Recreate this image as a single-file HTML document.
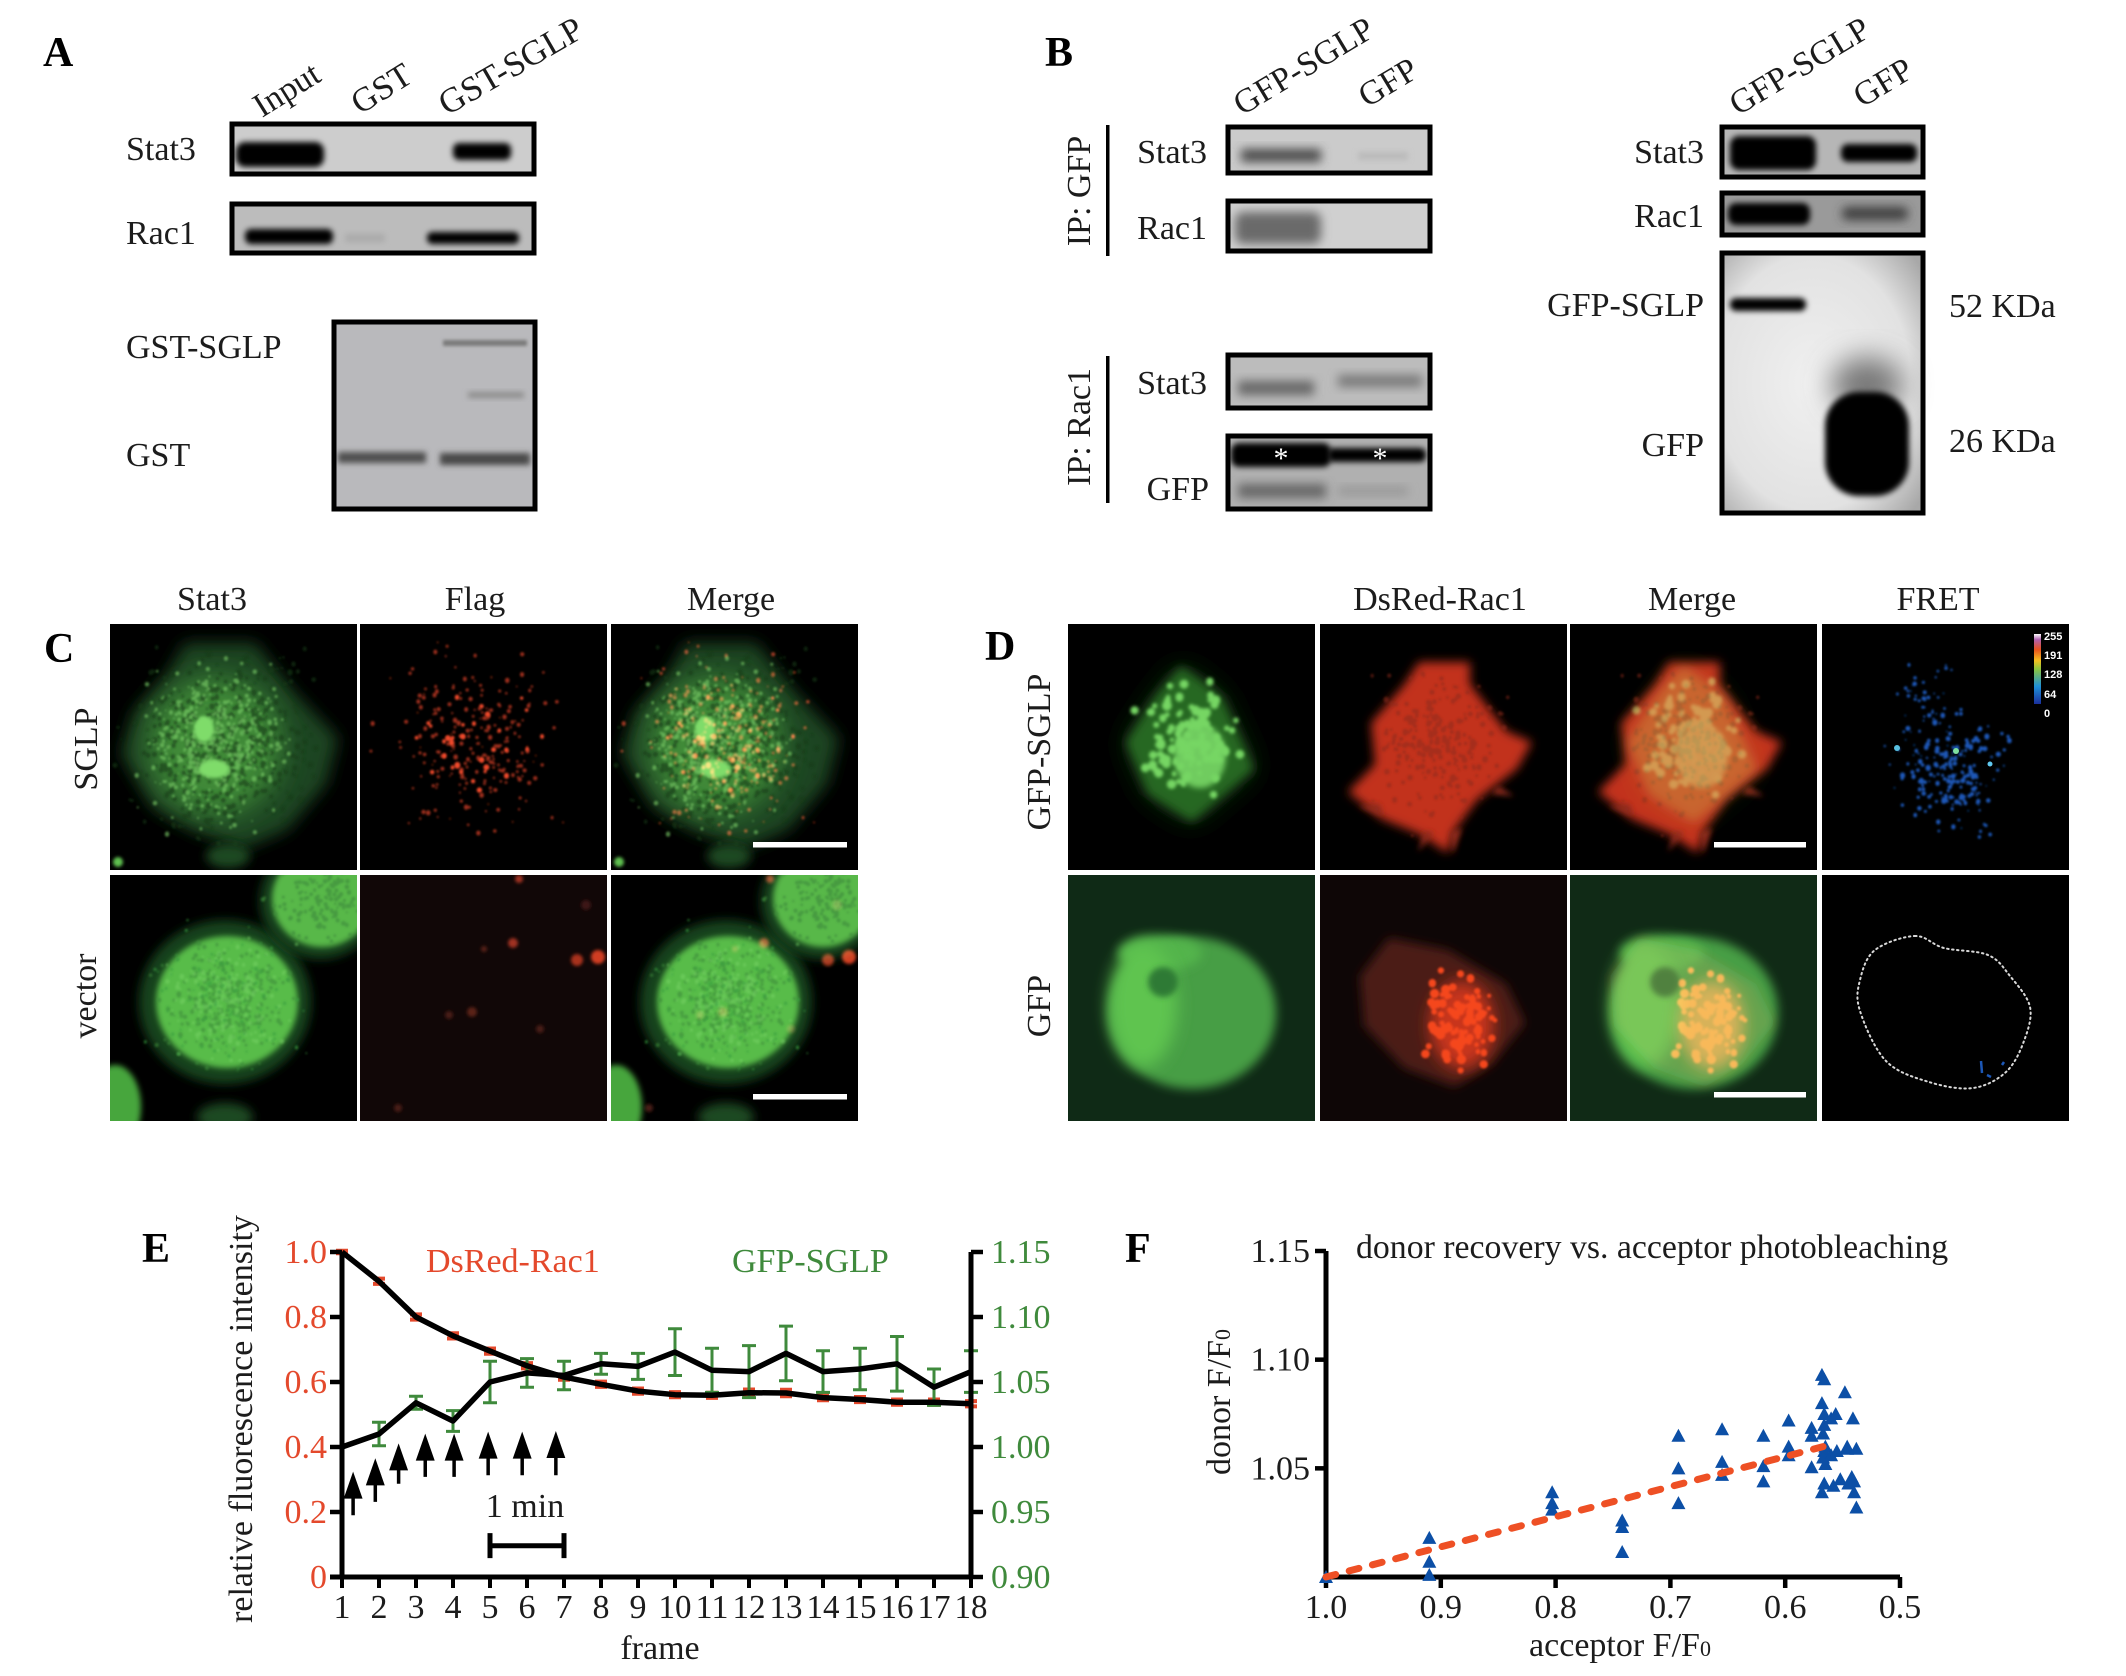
<!DOCTYPE html>
<html lang="en">
<head>
<meta charset="utf-8">
<title>SGLP interaction figure</title>
<style>
html,body{margin:0;padding:0;background:#fff;width:2126px;height:1676px;overflow:hidden}
svg{display:block}
text{font-family:"Liberation Serif",serif;font-size:34px;fill:#1c1c1c}
.letter{font-weight:bold;font-size:42px;fill:#000}
.box{fill:none;stroke:#000;stroke-width:5}
.r{fill:#e4492c}
.g{fill:#3f8a3c}
.screen{mix-blend-mode:screen}
</style>
</head>
<body>
<svg id="fig" xmlns="http://www.w3.org/2000/svg" width="2126" height="1676" viewBox="0 0 2126 1676">
<defs>
<filter id="b1" x="-30%" y="-60%" width="160%" height="220%"><feGaussianBlur stdDeviation="1.5"/></filter>
<filter id="b2" x="-30%" y="-60%" width="160%" height="220%"><feGaussianBlur stdDeviation="3"/></filter>
<filter id="b5" x="-40%" y="-60%" width="180%" height="220%"><feGaussianBlur stdDeviation="5"/></filter>
<filter id="b8" x="-40%" y="-40%" width="180%" height="180%"><feGaussianBlur stdDeviation="8"/></filter>
<filter id="b14" x="-50%" y="-50%" width="200%" height="200%"><feGaussianBlur stdDeviation="14"/></filter>
<filter id="s" x="-5%" y="-5%" width="110%" height="110%"><feGaussianBlur stdDeviation="1.1"/></filter>
<clipPath id="pc"><rect x="0" y="0" width="247" height="246"/></clipPath>
<radialGradient id="vig" cx="45%" cy="50%" r="70%"><stop offset="0" stop-color="#f0f0f0"/><stop offset="0.7" stop-color="#e2e2e2"/><stop offset="1" stop-color="#a8a8a8"/></radialGradient>

<g id="c1g">
  <polygon points="75,19 145,19 184,68 228,114 216,160 177,206 133,225 82,206 43,183 11,130 24,88 56,53" fill="#1a4420" filter="url(#b8)"/>
  <ellipse cx="105" cy="122" rx="66" ry="68" fill="#3f8a38" filter="url(#b14)"/>
  <path id="c1gd" fill="#143a18" opacity="0.6" filter="url(#s)"/>
  <path id="c1gl" fill="#7ed06a" opacity="0.6" filter="url(#s)"/>
  <ellipse cx="94" cy="105" rx="10" ry="13" fill="#7fdc6a" filter="url(#b1)"/>
  <ellipse cx="104" cy="145" rx="15" ry="9" fill="#7fdc6a" filter="url(#b1)"/>
  <circle cx="8" cy="238" r="5" fill="#5fc050" filter="url(#b1)"/>
  <ellipse cx="118" cy="232" rx="22" ry="12" fill="#1c4a20" filter="url(#b5)"/>
</g>
<g id="c1r">
  <path id="c1rd" fill="#9c2d1b" filter="url(#s)"/>
  <path id="c1rb" fill="#f0482a" filter="url(#s)"/>
</g>
<g id="c2g">
  <ellipse cx="115" cy="127" rx="86" ry="82" fill="#17421c" filter="url(#b5)"/>
  <ellipse cx="117" cy="127" rx="71" ry="66" fill="#58bc49" filter="url(#b2)"/>
  <ellipse cx="210" cy="26" rx="60" ry="58" fill="#17421c" filter="url(#b5)"/>
  <ellipse cx="212" cy="24" rx="50" ry="48" fill="#58b84a" filter="url(#b2)"/>
  <ellipse cx="5" cy="232" rx="26" ry="42" fill="#47a63e" filter="url(#b2)"/>
  <ellipse cx="115" cy="242" rx="28" ry="14" fill="#1b4a20" filter="url(#b5)"/>
  <path id="c2gd" fill="#3c8c3a" opacity="0.6" filter="url(#s)"/>
  <path id="c2gl" fill="#78d466" opacity="0.5" filter="url(#s)"/>
  <path id="c2gh" fill="#3f8f3c" opacity="0.7" filter="url(#s)"/>
  <path id="c2gr" fill="#3aa040" opacity="0.7" filter="url(#s)"/>
</g>
<g id="c2r">
  <g filter="url(#b1)">
    <circle cx="159" cy="4" r="4" fill="#a03020"/><circle cx="153" cy="68" r="5" fill="#a03020"/>
    <circle cx="217" cy="85" r="6" fill="#a8301e"/><circle cx="238" cy="82" r="7" fill="#d03c20"/>
    <circle cx="124" cy="74" r="3" fill="#5a2018"/><circle cx="112" cy="137" r="5" fill="#5a2018"/>
    <circle cx="89" cy="140" r="4" fill="#4a1c16"/><circle cx="180" cy="154" r="4" fill="#4a1c16"/>
    <circle cx="38" cy="233" r="4" fill="#4a1c16"/><circle cx="226" cy="30" r="5" fill="#3e1814"/>
  </g>
</g>

<g id="d1g">
  <polygon points="113,42 153,72 186,145 124,198 80,170 58,118 88,72" fill="#123a17" filter="url(#b14)"/>
  <polygon points="113,42 153,72 186,145 124,198 80,170 58,118 88,72" fill="#266824" filter="url(#b5)"/>
  <ellipse cx="132" cy="132" rx="26" ry="32" fill="#70cc5f" filter="url(#b2)"/>
  <path id="d1gb" fill="#76d663" filter="url(#b1)"/>
</g>
<g id="d1r">
  <polygon points="99,38 150,38 150,60 186,107 212,118 197,145 157,176 135,206 128,229 99,210 62,195 28,168 55,140 51,99 84,61" fill="#c2321e" filter="url(#b5)"/>
  <path d="M62 192L38 182L60 180ZM104 208L98 228L114 208ZM130 208L133 230L142 204ZM178 162L194 172L172 170Z" fill="#8f2a1b" filter="url(#b2)"/>
  <path id="d1rs" fill="#8e2a1c" opacity="0.55" filter="url(#s)"/>
</g>
<g id="d2g">
  <ellipse cx="124" cy="138" rx="84" ry="76" fill="#479e45" filter="url(#b5)"/>
  <ellipse cx="92" cy="78" rx="42" ry="18" fill="#52b44b" filter="url(#b5)"/>
  <ellipse cx="75" cy="130" rx="34" ry="62" fill="#5fc450" filter="url(#b8)"/>
  <ellipse cx="95" cy="107" rx="15" ry="15" fill="#2e7a35" filter="url(#b2)"/>
</g>
<g id="d2r">
  <polygon points="69,63 128,75 186,109 205,148 172,189 135,212 84,193 44,151 40,101" fill="#4b1a16" filter="url(#b5)"/>
  <ellipse cx="142" cy="150" rx="32" ry="44" fill="#c8341a" filter="url(#b8)"/>
  <path id="d2rs" fill="#f5461f" filter="url(#s)"/>
</g>
<g id="d2rm">
  <polygon points="69,63 128,75 186,109 205,148 172,189 135,212 84,193 44,151 40,101" fill="#2a100e" filter="url(#b5)"/>
  <ellipse cx="142" cy="150" rx="32" ry="44" fill="#c8341a" filter="url(#b8)"/>
  <use href="#d2rs"/>
</g>
</defs>

<rect x="0" y="0" width="2126" height="1676" fill="#fff"/>

<!-- Panel A -->
<text class="letter" x="43" y="66">A</text>
<text x="262" y="118" transform="rotate(-32 262 118)">Input</text>
<text x="360" y="115" transform="rotate(-32 360 115)">GST</text>
<text x="447" y="116" transform="rotate(-30 447 116)" style="font-size:35px">GST-SGLP</text>
<text x="126" y="160">Stat3</text>
<text x="126" y="244">Rac1</text>
<text x="126" y="358">GST-SGLP</text>
<text x="126" y="466">GST</text>
<g>
  <rect x="232" y="124" width="302" height="50" fill="#cdcdcd"/>
  <rect x="236" y="142" width="88" height="25" rx="9" fill="#000" filter="url(#b2)"/>
  <rect x="453" y="143" width="58" height="17" rx="6" fill="#000" filter="url(#b2)"/>
  <rect class="box" x="232" y="124" width="302" height="50"/>
</g>
<g>
  <rect x="232" y="204" width="302" height="49" fill="#bcbcbc"/>
  <rect x="245" y="229" width="88" height="15" rx="6" fill="#000" filter="url(#b2)"/>
  <rect x="427" y="232" width="92" height="12" rx="5" fill="#000" filter="url(#b2)"/>
  <rect x="345" y="234" width="40" height="8" fill="#aaa" filter="url(#b2)"/>
  <rect class="box" x="232" y="204" width="302" height="49"/>
</g>
<g>
  <rect x="334" y="322" width="201" height="187" fill="#b9b9bc"/>
  <rect x="443" y="340" width="84" height="6" fill="#7a7a7a" filter="url(#b1)"/>
  <rect x="468" y="392" width="56" height="6" fill="#8c8c8c" filter="url(#b2)"/>
  <rect x="338" y="452" width="88" height="11" fill="#505050" filter="url(#b2)"/>
  <rect x="440" y="453" width="90" height="12" fill="#484848" filter="url(#b2)"/>
  <rect class="box" x="334" y="322" width="201" height="187"/>
</g>

<!-- Panel B -->
<text class="letter" x="1045" y="66">B</text>
<text x="1242" y="116" transform="rotate(-31 1242 116)">GFP-SGLP</text>
<text x="1367" y="108" transform="rotate(-31 1367 108)">GFP</text>
<text x="1738" y="116" transform="rotate(-31 1738 116)">GFP-SGLP</text>
<text x="1862" y="108" transform="rotate(-31 1862 108)">GFP</text>
<text x="1090" y="191" text-anchor="middle" transform="rotate(-90 1090 191)">IP: GFP</text>
<text x="1090" y="427" text-anchor="middle" transform="rotate(-90 1090 427)">IP: Rac1</text>
<rect x="1106" y="125" width="3.5" height="131" fill="#000"/>
<rect x="1106" y="356" width="3.5" height="147" fill="#000"/>
<text x="1207" y="163" text-anchor="end">Stat3</text>
<text x="1207" y="239" text-anchor="end">Rac1</text>
<text x="1207" y="394" text-anchor="end">Stat3</text>
<text x="1209" y="500" text-anchor="end">GFP</text>
<text x="1704" y="163" text-anchor="end">Stat3</text>
<text x="1704" y="227" text-anchor="end">Rac1</text>
<text x="1704" y="316" text-anchor="end">GFP-SGLP</text>
<text x="1704" y="456" text-anchor="end">GFP</text>
<text x="1949" y="317">52 KDa</text>
<text x="1949" y="452">26 KDa</text>
<g transform="translate(-7,0)">
  <rect x="1235" y="127" width="202" height="46" fill="#cbcbcb"/>
  <rect x="1248" y="149" width="80" height="13" fill="#4a4a4a" filter="url(#b5)"/>
  <rect x="1365" y="152" width="50" height="8" fill="#bababa" filter="url(#b2)"/>
  <rect class="box" x="1235" y="127" width="202" height="46"/>
</g>
<g transform="translate(-7,0)">
  <rect x="1235" y="201" width="202" height="50" fill="#d0d0d0"/>
  <rect x="1242" y="212" width="86" height="32" rx="8" fill="#6b6b6b" filter="url(#b5)"/>
  <rect class="box" x="1235" y="201" width="202" height="50"/>
</g>
<g transform="translate(-7,0)">
  <rect x="1235" y="355" width="202" height="53" fill="#bcbcbc"/>
  <rect x="1245" y="381" width="76" height="14" fill="#666" filter="url(#b5)"/>
  <rect x="1345" y="375" width="84" height="12" fill="#787878" filter="url(#b5)"/>
  <rect class="box" x="1235" y="355" width="202" height="53"/>
</g>
<g transform="translate(-7,0)">
  <rect x="1235" y="436" width="202" height="73" fill="#b0b0b0"/>
  <rect x="1238" y="443" width="100" height="24" rx="8" fill="#000" filter="url(#b2)"/>
  <rect x="1335" y="448" width="98" height="14" rx="6" fill="#000" filter="url(#b2)"/>
  <rect x="1245" y="484" width="88" height="14" fill="#666" filter="url(#b5)"/>
  <rect x="1345" y="487" width="70" height="8" fill="#959595" filter="url(#b5)"/>
  <text x="1288" y="468" style="fill:#fff;font-size:30px" text-anchor="middle">*</text>
  <text x="1387" y="468" style="fill:#fff;font-size:30px" text-anchor="middle">*</text>
  <rect class="box" x="1235" y="436" width="202" height="73"/>
</g>
<g transform="translate(-11,0)">
  <rect x="1733" y="127" width="201" height="50" fill="#b6b6b6"/>
  <rect x="1741" y="136" width="86" height="34" rx="9" fill="#000" filter="url(#b2)"/>
  <rect x="1852" y="144" width="76" height="18" rx="7" fill="#000" filter="url(#b2)"/>
  <rect class="box" x="1733" y="127" width="201" height="50"/>
</g>
<g transform="translate(-11,0)">
  <rect x="1733" y="193" width="201" height="42" fill="#9a9a9a"/>
  <rect x="1739" y="203" width="82" height="22" rx="8" fill="#000" filter="url(#b2)"/>
  <rect x="1853" y="207" width="66" height="13" rx="5" fill="#3c3c3c" filter="url(#b5)"/>
  <rect class="box" x="1733" y="193" width="201" height="42"/>
</g>
<g transform="translate(-11,0)">
  <rect x="1733" y="253" width="201" height="260" fill="url(#vig)"/>
  <rect x="1741" y="298" width="76" height="13" rx="6" fill="#000" filter="url(#b2)"/>
  <ellipse cx="1878" cy="385" rx="36" ry="28" fill="#777" filter="url(#b14)"/>
  <rect x="1836" y="392" width="84" height="104" rx="34" fill="#000" filter="url(#b2)"/>
  <rect class="box" x="1733" y="253" width="201" height="260"/>
</g>

<!-- Panel C -->
<text class="letter" x="44" y="662">C</text>
<text x="212" y="610" text-anchor="middle">Stat3</text>
<text x="475" y="610" text-anchor="middle">Flag</text>
<text x="731" y="610" text-anchor="middle">Merge</text>
<text x="97" y="749" text-anchor="middle" transform="rotate(-90 97 749)">SGLP</text>
<text x="96" y="996" text-anchor="middle" transform="rotate(-90 96 996)">vector</text>

<g transform="translate(110,624)" clip-path="url(#pc)"><rect width="247" height="246" fill="#000"/><use href="#c1g"/></g>
<g transform="translate(360,624)" clip-path="url(#pc)"><rect width="247" height="246" fill="#000"/><use href="#c1r"/></g>
<g transform="translate(611,624)" clip-path="url(#pc)"><rect width="247" height="246" fill="#000"/><use href="#c1g"/><use href="#c1r" class="screen"/></g>
<g transform="translate(110,875)" clip-path="url(#pc)"><rect width="247" height="246" fill="#000"/><use href="#c2g"/></g>
<g transform="translate(360,875)" clip-path="url(#pc)"><rect width="247" height="246" fill="#110707"/><use href="#c2r"/></g>
<g transform="translate(611,875)" clip-path="url(#pc)"><rect width="247" height="246" fill="#000"/><use href="#c2g"/><use href="#c2r" class="screen"/></g>
<rect x="753" y="842" width="94" height="5.5" fill="#fff"/>
<rect x="753" y="1094" width="94" height="5.5" fill="#fff"/>

<!-- Panel D -->
<text class="letter" x="985" y="660">D</text>
<text x="1440" y="610" text-anchor="middle">DsRed-Rac1</text>
<text x="1692" y="610" text-anchor="middle">Merge</text>
<text x="1938" y="610" text-anchor="middle">FRET</text>
<text x="1050" y="752" text-anchor="middle" transform="rotate(-90 1050 752)">GFP-SGLP</text>
<text x="1050" y="1006" text-anchor="middle" transform="rotate(-90 1050 1006)">GFP</text>

<g transform="translate(1068,624)" clip-path="url(#pc)"><rect width="247" height="246" fill="#000"/><use href="#d1g"/></g>
<g transform="translate(1320,624)" clip-path="url(#pc)"><rect width="247" height="246" fill="#000"/><use href="#d1r"/></g>
<g transform="translate(1570,624)" clip-path="url(#pc)"><rect width="247" height="246" fill="#000"/><use href="#d1r"/><use href="#d1g" class="screen" opacity="0.6"/></g>
<g transform="translate(1822,624)" clip-path="url(#pc)">
  <rect width="247" height="246" fill="#000"/>
  <path id="f1b" fill="#1c57b6" filter="url(#s)"/>
  <path id="f1c" fill="#1c57b6" filter="url(#s)"/>
  <circle cx="134" cy="127" r="3" fill="#7fe0a0"/><circle cx="75" cy="124" r="3" fill="#58c0e0"/><circle cx="168" cy="140" r="2.5" fill="#60c8f0"/>
</g>
<g transform="translate(1068,875)" clip-path="url(#pc)"><rect width="247" height="246" fill="#0f2a16"/><use href="#d2g"/></g>
<g transform="translate(1320,875)" clip-path="url(#pc)"><rect width="247" height="246" fill="#0e0606"/><use href="#d2r"/></g>
<g transform="translate(1570,875)" clip-path="url(#pc)"><rect width="247" height="246" fill="#102a16"/><use href="#d2g"/><use href="#d2rm" class="screen"/></g>
<g transform="translate(1822,875)" clip-path="url(#pc)">
  <rect width="247" height="246" fill="#000"/>
  <path id="fretOutline" fill="none" stroke="#d8d8d8" stroke-width="2" stroke-dasharray="1.5 3.5" stroke-linecap="round"/>
  <path d="M159 186 l1 12 M165 200 l4 2 M180 190 l2 -3" stroke="#1c57b6" stroke-width="2.5" fill="none"/>
</g>
<rect x="1714" y="842" width="92" height="5.5" fill="#fff"/>
<rect x="1714" y="1092" width="92" height="5.5" fill="#fff"/>
<g>
  <linearGradient id="cb" x1="0" y1="1" x2="0" y2="0"><stop offset="0" stop-color="#1a2f9c"/><stop offset="0.25" stop-color="#1e90d8"/><stop offset="0.5" stop-color="#8cc63f"/><stop offset="0.62" stop-color="#f4c020"/><stop offset="0.78" stop-color="#e8501c"/><stop offset="0.92" stop-color="#b060b0"/><stop offset="1" stop-color="#fff"/></linearGradient>
  <rect x="2034" y="634" width="7" height="70" fill="url(#cb)"/>
  <text x="2044" y="640" style="font-family:'Liberation Sans',sans-serif;font-size:11px;font-weight:bold;fill:#fff">255</text>
  <text x="2044" y="659" style="font-family:'Liberation Sans',sans-serif;font-size:11px;font-weight:bold;fill:#fff">191</text>
  <text x="2044" y="678" style="font-family:'Liberation Sans',sans-serif;font-size:11px;font-weight:bold;fill:#fff">128</text>
  <text x="2044" y="698" style="font-family:'Liberation Sans',sans-serif;font-size:11px;font-weight:bold;fill:#fff">64</text>
  <text x="2044" y="717" style="font-family:'Liberation Sans',sans-serif;font-size:11px;font-weight:bold;fill:#fff">0</text>
</g>

<!-- Panel E -->
<text class="letter" x="142" y="1262">E</text>
<text x="252" y="1419" text-anchor="middle" transform="rotate(-90 252 1419)">relative fluorescence intensity</text>
<text x="660" y="1659" text-anchor="middle">frame</text>
<text x="426" y="1272" class="r">DsRed-Rac1</text>
<text x="732" y="1272" class="g">GFP-SGLP</text>
<text x="525" y="1517" text-anchor="middle">1 min</text>
<g id="chartE"></g>

<!-- Panel F -->
<text class="letter" x="1125" y="1262">F</text>
<text x="1356" y="1258" style="font-size:33.8px">donor recovery vs. acceptor photobleaching</text>
<text x="1230" y="1402" text-anchor="middle" transform="rotate(-90 1230 1402)">donor F/F<tspan font-size="22">0</tspan></text>
<text x="1620" y="1656" text-anchor="middle">acceptor F/F<tspan font-size="22">0</tspan></text>
<g id="chartF"></g>
</svg>

<script>
/* ---------- Chart E data ---------- */
const frames = [1,2,3,4,5,6,7,8,9,10,11,12,13,14,15,16,17,18];
const dsredValues = [1.0,0.91,0.80,0.742,0.695,0.65,0.615,0.593,0.572,0.561,0.559,0.567,0.566,0.552,0.546,0.538,0.538,0.533];
const dsredErrors = [0.004,0.008,0.008,0.008,0.008,0.008,0.008,0.008,0.008,0.008,0.008,0.01,0.01,0.008,0.008,0.008,0.008,0.008];
const gfpValues = [1.0,1.01,1.034,1.02,1.05,1.057,1.055,1.064,1.062,1.073,1.059,1.058,1.072,1.058,1.06,1.064,1.046,1.058];
const gfpErrors = [0,0.009,0.005,0.008,0.016,0.011,0.011,0.008,0.01,0.018,0.017,0.02,0.021,0.016,0.016,0.021,0.014,0.016];
const leftTicks = [0,0.2,0.4,0.6,0.8,1.0];
const leftTickLabels = ["0","0.2","0.4","0.6","0.8","1.0"];
const rightTicks = [0.90,0.95,1.00,1.05,1.10,1.15];
const rightTickLabels = ["0.90","0.95","1.00","1.05","1.10","1.15"];
const arrowFrames = [1.30,1.90,2.53,3.25,4.03,4.95,5.87,6.78];
const arrowTips = [0.308,0.349,0.395,0.425,0.425,0.431,0.431,0.433];
const arrowTails = [0.19,0.231,0.287,0.308,0.308,0.313,0.313,0.313];

/* ---------- Chart F data ---------- */
const acceptorValues = [1.0,0.91,0.91,0.91,0.803,0.803,0.803,0.742,0.742,0.742,0.693,0.693,0.693,0.655,0.655,0.655,0.619,0.619,0.619,0.597,0.597,0.597,0.577,0.577,0.577,0.568,0.566,0.568,0.566,0.566,0.567,0.566,0.567,0.565,0.568,0.566,0.565,0.56,0.556,0.548,0.546,0.546,0.541,0.538,0.56,0.555,0.558,0.552,0.545,0.542,0.54,0.54,0.538];
const donorValues = [1.0,1.001,1.007,1.018,1.039,1.034,1.031,1.026,1.023,1.0115,1.065,1.05,1.034,1.068,1.053,1.047,1.065,1.051,1.044,1.072,1.06,1.056,1.0686,1.065,1.0505,1.093,1.091,1.08,1.075,1.07,1.066,1.058,1.055,1.052,1.039,1.043,1.06,1.073,1.075,1.085,1.06,1.059,1.073,1.059,1.056,1.058,1.042,1.045,1.043,1.046,1.044,1.039,1.032];
const fitLineX = [1.0,0.567];
const fitLineY = [1.0,1.06];
const fXTicks = [1.0,0.9,0.8,0.7,0.6,0.5];
const fXTickLabels = ["1.0","0.9","0.8","0.7","0.6","0.5"];
const fYTicks = [1.05,1.10,1.15];
const fYTickLabels = ["1.05","1.10","1.15"];

const NS = "http://www.w3.org/2000/svg";
function mk(parent, tag, attrs, txt){
  const e = document.createElementNS(NS, tag);
  for (const k in attrs) e.setAttribute(k, attrs[k]);
  if (txt !== undefined) e.textContent = txt;
  parent.appendChild(e);
  return e;
}

/* Axis functions, chart E */
const eX = f => 342 + (f - 1) * (971 - 342) / 17;
const eL = v => 1577 - v * 325;
const eR = v => 1577 - (v - 0.9) * 1300;
const E = document.getElementById("chartE");
const lineFrom = (xs, ys) => xs.map((x, i) => x.toFixed(1) + "," + ys[i].toFixed(1)).join(" ");

frames.forEach((f, i) => {
  const g = mk(E, "path", {
    d: `M${eX(f)-6} ${eL(dsredValues[i]-dsredErrors[i])}H${eX(f)+6}M${eX(f)} ${eL(dsredValues[i]-dsredErrors[i])}V${eL(dsredValues[i]+dsredErrors[i])}M${eX(f)-6} ${eL(dsredValues[i]+dsredErrors[i])}H${eX(f)+6}`,
    stroke: "#e4492c", "stroke-width": 4, fill: "none"
  });
  
  
});
frames.forEach((f, i) => {
  if (!gfpErrors[i]) return;
  const g = mk(E, "path", {
    d: `M${eX(f)-7} ${eR(gfpValues[i]-gfpErrors[i])}H${eX(f)+7}M${eX(f)} ${eR(gfpValues[i]-gfpErrors[i])}V${eR(gfpValues[i]+gfpErrors[i])}M${eX(f)-7} ${eR(gfpValues[i]+gfpErrors[i])}H${eX(f)+7}`,
    stroke: "#3f8a3c", "stroke-width": 3, fill: "none"
  });
  
  
});
const redLine = mk(E, "polyline", {points: lineFrom(frames.map(eX), dsredValues.map(eL)), fill: "none", stroke: "#000", "stroke-width": 5.5, "stroke-linejoin": "round"});


const greenLine = mk(E, "polyline", {points: lineFrom(frames.map(eX), gfpValues.map(eR)), fill: "none", stroke: "#000", "stroke-width": 5.5, "stroke-linejoin": "round"});



/* axes E */
const eAxes = mk(E, "path", {
  d: `M${eX(1)} ${eL(1)}V${eL(0)}M${eX(1)-12} ${eL(0)}H${eX(18)}M${eX(18)} ${eR(1.15)}V${eR(0.9)}`,
  stroke: "#000", "stroke-width": 5, fill: "none"
});


leftTicks.forEach((v, i) => {
  const t = mk(E, "line", {x1: eX(1)-12, x2: eX(1), y1: eL(v), y2: eL(v), stroke: "#000", "stroke-width": 4.5});
  
  
  const l = mk(E, "text", {x: eX(1)-15, y: eL(v)+11, "text-anchor": "end", class: "r"}, leftTickLabels[i]);
  
  
});
rightTicks.forEach((v, i) => {
  const t = mk(E, "line", {x1: eX(18), x2: eX(18)+12, y1: eR(v), y2: eR(v), stroke: "#000", "stroke-width": 4.5});
  
  
  const l = mk(E, "text", {x: eX(18)+20, y: eR(v)+11, class: "g"}, rightTickLabels[i]);
  
  
});
frames.forEach(f => {
  const t = mk(E, "line", {x1: eX(f), x2: eX(f), y1: eL(0), y2: eL(0)+11, stroke: "#000", "stroke-width": 4});
  
  
  const l = mk(E, "text", {x: eX(f), y: 1618, "text-anchor": "middle", textLength: f >= 10 ? 33 : 17, lengthAdjust: "spacingAndGlyphs"}, String(f));
  
  
});
/* bleach arrows */
arrowFrames.forEach((f, i) => {
  const a = mk(E, "path", {
    d: `M${eX(f)} ${eL(arrowTails[i])}V${eL(arrowTips[i])+16}M${eX(f)-7} ${eL(arrowTips[i])+20}L${eX(f)} ${eL(arrowTips[i])}L${eX(f)+7} ${eL(arrowTips[i])+20}Z`,
    stroke: "#000", "stroke-width": 3.5, fill: "#000", "stroke-linejoin": "miter"
  });
  
  
});
const minBar = mk(E, "path", {
  d: `M${eX(5)} ${eL(0.135)}V${eL(0.058)}M${eX(5)} ${eL(0.096)}H${eX(7)}M${eX(7)} ${eL(0.135)}V${eL(0.058)}`,
  stroke: "#000", "stroke-width": 5, fill: "none"
});



/* Axis functions, chart F */
const fX = v => 1326 + (1 - v) * (1900 - 1326) / 0.5;
const fY = v => 1577 - (v - 1) * (1577 - 1251) / 0.15;
const F = document.getElementById("chartF");
const fAxes = mk(F, "path", {
  d: `M${fX(1)} ${fY(1.15)}V${fY(1)}M${fX(1)} ${fY(1)}H${fX(0.5)}`,
  stroke: "#000", "stroke-width": 5, fill: "none"
});


fXTicks.forEach((v, i) => {
  const t = mk(F, "line", {x1: fX(v), x2: fX(v), y1: fY(1), y2: fY(1)+11, stroke: "#000", "stroke-width": 4.5});
  
  
  const l = mk(F, "text", {x: fX(v), y: 1618, "text-anchor": "middle"}, fXTickLabels[i]);
  
  
});
fYTicks.forEach((v, i) => {
  const t = mk(F, "line", {x1: fX(1)-11, x2: fX(1), y1: fY(v), y2: fY(v), stroke: "#000", "stroke-width": 4.5});
  
  
  const l = mk(F, "text", {x: fX(1)-16, y: fY(v)+11, "text-anchor": "end"}, fYTickLabels[i]);
  
  
});
acceptorValues.forEach((a, i) => {
  const x = fX(a), y = fY(donorValues[i]);
  const p = mk(F, "polygon", {points: `${x},${y-7} ${x+7},${y+6} ${x-7},${y+6}`, fill: "#0c4fa6"});
  
  
});
const fit = mk(F, "line", {
  x1: fX(fitLineX[0]), y1: fY(fitLineY[0]), x2: fX(fitLineX[1]), y2: fY(fitLineY[1]),
  stroke: "#ee5025", "stroke-width": 7, "stroke-linecap": "round", "stroke-dasharray": "10 14"
});



/* ---------- Micrograph texture (decorative speckle, not chart data) ---------- */
let seed = 12345;
function rnd(){ seed = (seed * 1103515245 + 12345) & 0x7fffffff; return seed / 0x7fffffff; }
function gauss(){ return (rnd() + rnd() + rnd()) / 1.5 - 1; }
function speck(id, cx, cy, rx, ry, n, r0, r1){
  let d = "";
  for (let i = 0; i < n; i++){
    const x = cx + gauss() * rx, y = cy + gauss() * ry, r = r0 + rnd() * (r1 - r0);
    d += `M${(x-r).toFixed(1)} ${y.toFixed(1)}a${r.toFixed(1)} ${r.toFixed(1)} 0 1 0 ${(2*r).toFixed(1)} 0a${r.toFixed(1)} ${r.toFixed(1)} 0 1 0 ${(-2*r).toFixed(1)} 0`;
  }
  document.getElementById(id).setAttribute("d", d);
}
speck("c1gd", 112, 122, 120, 120, 520, 1, 2.8);
speck("c1gl", 105, 122, 92, 98, 480, 0.8, 2.4);
speck("c1rd", 112, 118, 110, 122, 240, 0.8, 2.2);
speck("c1rb", 112, 118, 90, 105, 32, 1.6, 3);
speck("c2gd", 117, 127, 82, 78, 300, 1, 2.4);
speck("c2gl", 117, 127, 80, 76, 200, 1, 2.4);
speck("c2gh", 212, 24, 62, 58, 160, 1, 2.4);
speck("c2gr", 115, 127, 98, 96, 110, 0.8, 1.8);
speck("d1gb", 120, 118, 68, 88, 110, 2, 5);
speck("d1rs", 118, 120, 85, 95, 260, 1.2, 3);
speck("d2rs", 142, 150, 52, 64, 90, 2, 5);
speck("f1b", 130, 145, 75, 72, 200, 0.7, 2.6);
speck("f1c", 105, 72, 42, 50, 40, 0.7, 2.4);

/* FRET outline through hand-read cell boundary */
const outlineX = [93,122,166,188,208,202,184,151,107,64,38,38,53];
const outlineY = [61,73,80,101,132,166,197,213,207,186,136,105,75];
(function(){
  const n = outlineX.length;
  let d = `M${outlineX[0]} ${outlineY[0]}`;
  for (let i = 0; i < n; i++){
    const p0 = (i-1+n)%n, p1 = i, p2 = (i+1)%n, p3 = (i+2)%n;
    const c1x = outlineX[p1] + (outlineX[p2]-outlineX[p0])/6, c1y = outlineY[p1] + (outlineY[p2]-outlineY[p0])/6;
    const c2x = outlineX[p2] - (outlineX[p3]-outlineX[p1])/6, c2y = outlineY[p2] - (outlineY[p3]-outlineY[p1])/6;
    d += `C${c1x.toFixed(1)} ${c1y.toFixed(1)} ${c2x.toFixed(1)} ${c2y.toFixed(1)} ${outlineX[p2]} ${outlineY[p2]}`;
  }
  document.getElementById("fretOutline").setAttribute("d", d + "Z");
})();
</script>
</body>
</html>
